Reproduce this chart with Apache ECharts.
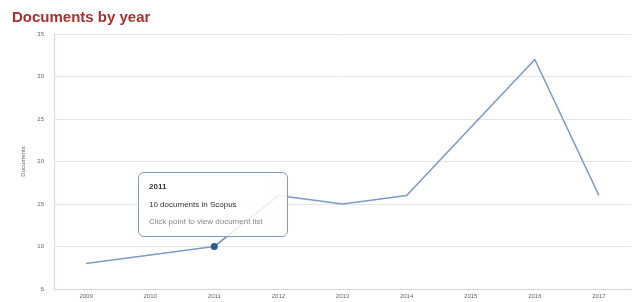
<!DOCTYPE html>
<html>
<head>
<meta charset="utf-8">
<script src="https://cdn.jsdelivr.net/npm/echarts@6/dist/echarts.min.js"></script>
<style>
html,body{margin:0;padding:0;background:#fff;}
#chart{width:632px;height:302px;}
</style>
</head>
<body>
<div id="chart"></div>
<script>
const years = ['2009','2010','2011','2012','2013','2014','2015','2016','2017'];
const documents = [8, 9, 10, 16, 15, 16, 24, 32, 16];
const yTicks = { min: 5, max: 35, interval: 5 };
const highlightIndex = 2;

const chart = echarts.init(document.getElementById('chart'), null, {renderer: 'canvas'});
chart.setOption({
  animation: false,
  backgroundColor: '#ffffff',
  title: {
    text: 'Documents by year',
    left: 7, top: 5,
    textStyle: {color: '#a8302f', fontSize: 15, fontWeight: 'bold', fontFamily: 'Liberation Sans, Arial, sans-serif'}
  },
  grid: {left: 54, right: 1, top: 34, bottom: 13},
  tooltip: {
    trigger: 'item',
    alwaysShowContent: true,
    transitionDuration: 0,
    showDelay: 0,
    position: [138, 172],
    backgroundColor: 'rgba(255,255,255,0.85)',
    borderColor: '#7d9dc5',
    borderWidth: 1,
    borderRadius: 6,
    padding: [5, 10, 8, 10],
    extraCssText: 'box-shadow:none;width:128px;height:50px;',
    formatter: function (p) {
      return '<div style="font-family:Liberation Sans,Arial,sans-serif;font-size:8px;line-height:17.5px;color:#333;">' +
        '<b>' + p.name + '</b><br/>' +
        p.value + ' documents in Scopus<br/>' +
        '<span style="color:#888;">Click point to view document list</span></div>';
    }
  },
  xAxis: {
    type: 'category',
    data: years,
    boundaryGap: true,
    axisLine: {lineStyle: {color: '#ccd6eb', width: 1}},
    axisTick: {alignWithLabel: true, length: 5, lineStyle: {color: '#ccd6eb'}},
    axisLabel: {color: '#666', fontSize: 6, margin: 4, fontFamily: 'Liberation Sans, Arial, sans-serif'},
    splitLine: {show: false}
  },
  yAxis: {
    type: 'value',
    min: yTicks.min, max: yTicks.max, interval: yTicks.interval,
    name: 'Documents',
    nameLocation: 'middle',
    nameGap: 24,
    nameTextStyle: {color: '#666', fontSize: 6, fontFamily: 'Liberation Sans, Arial, sans-serif'},
    axisLine: {show: true, lineStyle: {color: '#ccd6eb'}},
    axisTick: {show: false},
    axisLabel: {color: '#666', fontSize: 6, margin: 10, fontFamily: 'Liberation Sans, Arial, sans-serif'},
    splitLine: {lineStyle: {color: '#e6e6e6', width: 1}}
  },
  series: [{
    type: 'line',
    data: documents,
    showSymbol: true,
    symbol: 'circle',
    symbolSize: function (v, p) { return p.dataIndex === highlightIndex ? 7 : 0; },
    lineStyle: {color: '#7d9cc4', width: 1.6},
    itemStyle: {color: '#2f5b8e'},
    emphasis: {disabled: true}
  }]
});
chart.dispatchAction({type: 'showTip', seriesIndex: 0, dataIndex: highlightIndex});
</script>
</body>
</html>
